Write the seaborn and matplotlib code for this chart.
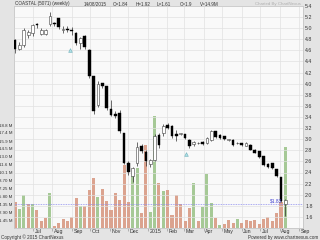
import numpy as np
import pandas as pd
import matplotlib
matplotlib.use("Agg")
import matplotlib.pyplot as plt
import matplotlib.transforms as mtransforms
import seaborn as sns

# ---------------- data ----------------
opens = [4.79, 4.63, 4.70, 4.87, 4.92, 5.08, 4.90, 4.90, 5.08, 5.10,
         5.18, 4.96, 4.98, 4.97, 4.92, 4.74, 4.86, 4.61, 4.13, 3.62,
         4.01, 3.95, 3.55, 3.46, 3.48, 3.11, 2.57, 2.34, 2.57, 2.87,
         2.77, 2.55, 2.63, 3.08, 3.11, 3.26, 3.24, 3.10, 3.10, 3.09,
         2.99, 2.91, 2.93, 2.95, 2.93, 2.99, 3.14, 3.08, 3.05, 2.99,
         2.99, 2.93, 2.93, 2.88, 2.90, 2.81, 2.78, 2.69, 2.55, 2.57,
         2.46, 2.31, 1.84]
highs = [4.81, 4.76, 5.00, 4.97, 5.08, 5.09, 5.00, 4.99, 5.29, 5.12,
         5.19, 5.04, 5.04, 5.02, 4.93, 4.85, 4.87, 4.62, 4.14, 4.04,
         4.02, 3.96, 3.70, 3.50, 3.53, 3.12, 2.60, 2.50, 2.95, 2.92,
         2.80, 2.65, 3.10, 3.12, 3.27, 3.30, 3.26, 3.16, 3.12, 3.10,
         3.01, 2.97, 2.95, 2.97, 3.04, 3.16, 3.15, 3.09, 3.06, 3.01,
         3.00, 2.95, 2.94, 2.95, 2.91, 2.83, 2.79, 2.70, 2.57, 2.58,
         2.47, 2.32, 1.92]
lows = [4.55, 4.60, 4.66, 4.82, 4.86, 5.00, 4.88, 4.88, 5.04, 5.04,
        4.98, 4.92, 4.93, 4.88, 4.70, 4.62, 4.62, 4.10, 3.46, 3.58,
        3.93, 3.53, 3.42, 3.38, 3.12, 2.55, 2.36, 2.22, 2.52, 2.75,
        2.52, 2.50, 2.60, 2.85, 3.05, 3.18, 3.02, 2.97, 3.07, 3.00,
        2.84, 2.88, 2.91, 2.90, 2.91, 2.97, 3.02, 3.00, 2.99, 2.97,
        2.88, 2.91, 2.88, 2.87, 2.80, 2.75, 2.66, 2.52, 2.49, 2.46,
        2.32, 1.86, 1.61]
closes = [4.62, 4.70, 4.97, 4.93, 5.06, 5.05, 4.96, 4.96, 5.22, 5.07,
          5.02, 4.99, 4.97, 4.95, 4.74, 4.82, 4.66, 4.14, 3.51, 4.00,
          3.95, 3.56, 3.44, 3.41, 3.14, 2.57, 2.40, 2.48, 2.86, 2.78,
          2.60, 2.63, 3.06, 2.90, 3.24, 3.20, 3.05, 3.06, 3.10, 3.02,
          2.87, 2.95, 2.93, 2.91, 3.02, 3.14, 3.04, 3.02, 3.01, 2.99,
          2.90, 2.93, 2.90, 2.93, 2.81, 2.76, 2.68, 2.54, 2.50, 2.48,
          2.33, 1.88, 1.90]
volumes_m = [4.7, 3.5, 6.1, 4.3, 4.3, 3.3, 1.3, 1.9, 6.4, 0.4,
             1.0, 1.7, 1.3, 2.0, 5.4, 4.1, 4.1, 6.9, 9.2, 5.6,
             7.2, 5.0, 3.3, 6.4, 5.2, 11.5, 4.7, 9.6, 11.0, 2.7,
             15.2, 3.0, 20.4, 8.2, 6.7, 6.9, 2.4, 6.0, 4.4, 1.2,
             3.6, 8.3, 1.2, 3.8, 9.9, 4.5, 1.9, 0.5, 0.8, 1.4,
             1.0, 1.6, 1.0, 1.4, 1.3, 1.4, 0.7, 1.7, 2.0, 1.3,
             2.8, 4.7, 14.9]
vol_up = [0, 1, 1, 0, 1, 0, 0, 0, 1, 0,
          0, 0, 0, 0, 0, 1, 0, 0, 0, 1,
          0, 0, 0, 0, 0, 0, 0, 1, 1, 0,
          0, 1, 1, 0, 1, 0, 0, 0, 0, 0,
          0, 1, 0, 1, 1, 1, 0, 1, 0, 0,
          0, 1, 0, 0, 0, 0, 0, 0, 0, 0,
          0, 0, 1]
last_week = "2015-08-10"
month_starts = ["2014-07-01", "2014-08-01", "2014-09-01", "2014-10-01", "2014-11-01",
                "2014-12-01", "2015-01-01", "2015-02-01", "2015-03-01", "2015-04-01",
                "2015-05-01", "2015-06-01", "2015-07-01", "2015-08-01", "2015-09-01"]
month_labels = ["Jul", "Aug", "Sep", "Oct", "Nov", "Dec", "2015", "Feb", "Mar",
                "Apr", "May", "Jun", "Jul", "Aug", "Sep"]
price_ticks = [1.6, 1.8, 2.0, 2.2, 2.4, 2.6, 2.8, 3.0, 3.2, 3.4, 3.6, 3.8,
               4.0, 4.2, 4.4, 4.6, 4.8, 5.0, 5.2, 5.4]
vol_ticks = [1.45, 2.90, 4.35, 5.80, 7.25, 8.70, 10.1, 11.6, 13.0, 14.5, 15.9, 17.4, 18.8]
vol_tick_labels = ["1.45 M", "2.90 M", "4.35 M", "5.80 M", "7.25 M", "8.70 M", "10.1 M",
                   "11.6 M", "13.0 M", "14.5 M", "15.9 M", "17.4 M", "18.8 M"]
alert_week = [12.5, 39.2]
alert_price = [4.61, 2.73]
last_price_line = 1.83
header_items = ["COASTAL (5071) (weekly)", "14/08/2015", "O=1.84", "H=1.92",
                "L=1.61", "C=1.9", "V=14.9M"]

# ---------------- derived ----------------
n = len(closes)
weeks = np.arange(n)
week_dates = pd.Timestamp(last_week) - pd.to_timedelta(7 * (n - 1 - weeks), unit="D")
month_pos = [(pd.Timestamp(d) - week_dates[0]).days / 7.0 for d in month_starts]

df = pd.DataFrame({"week": weeks, "volume": volumes_m,
                   "dir": ["up" if u else "down" for u in vol_up]})

sns.set_theme(style="white")
plt.rcParams["font.family"] = ["Liberation Sans", "DejaVu Sans"]

W, H = 320, 240
fig = plt.figure(figsize=(W / 100, H / 100), dpi=100)
fig.patch.set_facecolor("#e4e4e4")

left_px, right_px, top_px, bot_px = 14, 303, 6, 228
ax_vol = fig.add_axes([left_px / W, 1 - bot_px / H, (right_px - left_px) / W, (bot_px - top_px) / H])
ax_vol.set_facecolor("#f9f9f9")

sns.barplot(data=df, x="week", y="volume", hue="dir",
            palette={"up": "#a6c996", "down": "#dba38f"},
            native_scale=True, dodge=False, width=0.7, saturation=1,
            errorbar=None, legend=False, linewidth=0, ax=ax_vol)

ax_price = ax_vol.twinx()

# wicks and bodies
ax_price.vlines(weeks, lows, highs, color="#303030", lw=0.5, zorder=2)
o = np.array(opens)
c = np.array(closes)
up = c >= o
bottoms = np.minimum(o, c)
heights = np.maximum(np.abs(c - o), 0.007)
ax_price.bar(weeks[up], heights[up], bottom=bottoms[up], width=0.62,
             color="white", edgecolor="#404040", linewidth=0.4, zorder=3)
ax_price.bar(weeks[~up], heights[~up], bottom=bottoms[~up], width=0.62,
             color="black", edgecolor="black", linewidth=0.3, zorder=3)

# alert icons
ax_price.scatter(alert_week, alert_price, marker="^", s=7, color="#aee0e6",
                 edgecolor="#6fb0ba", linewidth=0.4, zorder=4)

# last price dotted line
ax_price.axhline(last_price_line, color="#8f8ff0", lw=0.6, ls=(0, (1, 1)), zorder=1)
ax_price.text(n - 1.7, last_price_line + 0.015, f"${last_price_line:.2f}",
              ha="right", va="bottom", fontsize=3.4, color="#3a3ad0", zorder=5)

# limits
ax_vol.set_xlim(-0.25, 66.05)
ax_price.set_xlim(-0.25, 66.05)
ax_vol.set_ylim(0, 40.6)
ax_price.set_ylim(1.40, 5.40)

# x ticks
ax_vol.set_xticks(month_pos)
ax_vol.set_xticklabels(month_labels)
ax_vol.tick_params(axis="x", direction="out", length=2.4, width=0.4, color="#888888",
                   labelsize=3.8, labelcolor="#333333", pad=-1.6, bottom=True)
offset = mtransforms.ScaledTranslation(1.6 / 100, 0, fig.dpi_scale_trans)
for lab in ax_vol.get_xticklabels():
    lab.set_ha("left")
    lab.set_transform(lab.get_transform() + offset)
ax_vol.grid(axis="x", color="#e2e2e2", lw=0.5)
ax_vol.set_axisbelow(True)
ax_vol.set_xlabel("")
ax_vol.set_ylabel("")

# volume ticks (left)
ax_vol.set_yticks(vol_ticks)
ax_vol.set_yticklabels(vol_tick_labels)
ax_vol.tick_params(axis="y", left=False, length=0, labelsize=3.2, labelcolor="#333333", pad=1)

# price ticks (right)
ax_price.set_yticks(price_ticks)
ax_price.set_yticklabels([f"{t:.1f}" for t in price_ticks])
ax_price.tick_params(axis="y", right=False, length=0, labelsize=3.8, labelcolor="#333333", pad=1.5)
ax_price.grid(axis="y", color="#e2e2e2", lw=0.5, zorder=0)
ax_price.set_axisbelow(True)
ax_price.set_ylabel("")

for ax in (ax_vol, ax_price):
    for s in ax.spines.values():
        s.set_color("#c8c8c8")
        s.set_linewidth(0.5)

# header texts
ty = 1 - 4 / H
hdr_x = [15, 84, 113, 136, 157, 180, 200]
for xp, t in zip(hdr_x, header_items):
    fig.text(xp / W, ty, t, fontsize=3.3, color="#333333", ha="left", va="center")
fig.text(255 / W, ty, "Charted By ChartNexus", fontsize=3.2, color="#b0b0b0", ha="left", va="center")

fig.text(1 / W, 1 - 237 / H, "Copyright \u00a9 2015 ChartNexus", fontsize=3.3,
         color="#333333", ha="left", va="center")
fig.text(318 / W, 1 - 237 / H, "Powered by www.chartnexus.com", fontsize=3.3,
         color="#333333", ha="right", va="center")

fig.savefig("out.png", dpi=100, facecolor=fig.get_facecolor())
